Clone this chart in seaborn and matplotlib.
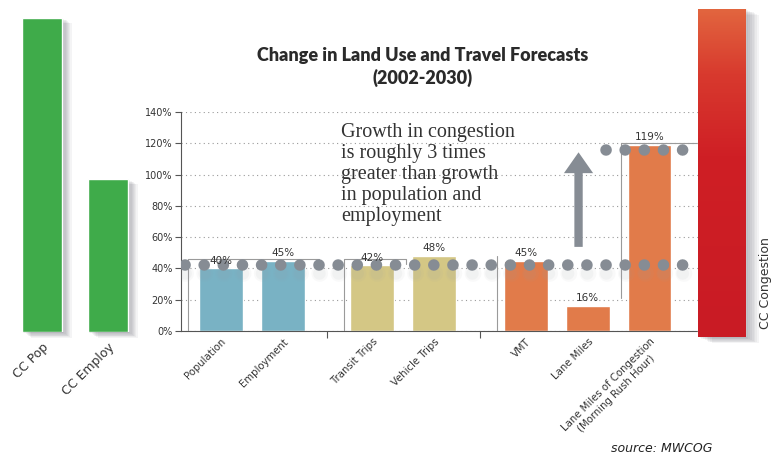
import numpy as np
import pandas as pd
import matplotlib
matplotlib.use("Agg")
import matplotlib.pyplot as plt
import seaborn as sns
from matplotlib.patches import FancyArrowPatch
from matplotlib.colors import LinearSegmentedColormap

# ---------------- data ----------------
categories = ["Population", "Employment", "Transit Trips", "Vehicle Trips",
              "VMT", "Lane Miles", "Lane Miles of Congestion\n(Morning Rush Hour)"]
values = [40, 45, 42, 48, 45, 16, 119]
groups = ["Land Use", "Land Use", "Trips", "Trips", "Roads", "Roads", "Roads"]
ytick_values = [0, 20, 40, 60, 80, 100, 120, 140]
cc_labels = ["CC Pop", "CC Employ"]
cc_values = [201, 98]
cong_labels = ["CC Congestion"]
cong_values = [210]
baseline_growth = 42
congestion_growth = 116
annotation = ("Growth in congestion\nis roughly 3 times\ngreater than growth\n"
              "in population and\nemployment")
title_lines = ["Change in Land Use and Travel Forecasts", "(2002-2030)"]
source = "source: MWCOG"

# ---------------- layout / style ----------------
W, H = 773, 457
def box(l, t, r, b):
    return [l / W, 1 - b / H, (r - l) / W, (b - t) / H]

positions = [0, 1, 2.44, 3.44, 4.92, 5.92, 6.92]
PX_PER_PCT = 219 / 140.0
palette = {"Land Use": "#79b2c4", "Trips": "#d4c785", "Roads": "#e17b4a"}
GREEN = "#3fab4a"
DOT = "#868c94"
TXT = "#333333"

sns.set_theme(style="white")
plt.rcParams["font.family"] = ["DejaVu Sans"]

fig = plt.figure(figsize=(7.73, 4.57), dpi=100)
fig.patch.set_facecolor("white")

# ---------------- main chart ----------------
ax = fig.add_axes(box(181, 112, 700, 331))
df = pd.DataFrame({"x": positions, "value": values, "group": groups})
sns.barplot(data=df, x="x", y="value", hue="group", palette=palette,
            native_scale=True, width=0.7, dodge=False, legend=False,
            saturation=1, ax=ax, zorder=2)
ax.set_xlim(-0.645, 7.73)
ax.set_ylim(0, 140)
ax.set_xlabel("")
ax.set_ylabel("")
ax.set_yticks(ytick_values)
ax.set_yticklabels([f"{v}%" for v in ytick_values], fontsize=7, color=TXT)
ax.set_xticks(positions)
ax.set_xticklabels(categories, rotation=45, ha="right", rotation_mode="anchor",
                   fontsize=7.3, color=TXT, multialignment="center")
ax.set_xticks([1.71, 4.18], minor=True)
ax.tick_params(axis="x", which="major", length=0, pad=4)
ax.tick_params(axis="x", which="minor", length=5, width=0.8, color="#555555",
               direction="out", bottom=True)
ax.tick_params(axis="y", length=4, width=0.8, color="#555555", direction="out",
               left=True, pad=2)
for s in ["top", "right"]:
    ax.spines[s].set_visible(False)
for s in ["left", "bottom"]:
    ax.spines[s].set_color("#555555")
    ax.spines[s].set_linewidth(0.8)
ax.yaxis.grid(True, linestyle=(0, (1, 3)), color="#9a9a9a", linewidth=0.8)
ax.set_axisbelow(True)

# value labels
for x, v in zip(positions, values):
    ax.annotate(f"{v}%", (x, v), xytext=(0, 2), textcoords="offset points",
                ha="center", va="bottom", fontsize=7.5, color=TXT, zorder=6)

# bracket lines
lc = "#9a9a9a"
ax.plot([-0.53, -0.53, 1.58], [0, 46, 46], color=lc, lw=0.8, zorder=3)
ax.plot([1.98, 1.98, 2.98, 2.98], [0, 46, 46, 43], color=lc, lw=0.8, zorder=3)
ax.plot([4.45, 4.45], [0, 48], color=lc, lw=0.8, zorder=3)
ax.plot([6.45, 6.45, 7.73], [21, 120, 120], color=lc, lw=0.8, zorder=3)

# dotted reference levels (soft shadow + dots)
for lw_s, a_s in [(12, 0.06), (9, 0.08)]:
    ax.plot([-0.58, 7.73], [baseline_growth - 5, baseline_growth - 5], color="#9aa0a8",
            lw=lw_s, alpha=a_s, ls=(0, (0.01, 19 / (lw_s * 1.389))),
            dash_capstyle="round", zorder=3)
ax.plot([-0.58, 7.73], [baseline_growth, baseline_growth], color=DOT,
        lw=8.3, ls=(0, (0.01, 1.65)), dash_capstyle="round", zorder=5)
ax.plot([6.21, 7.73], [congestion_growth, congestion_growth], color=DOT,
        lw=8.3, ls=(0, (0.01, 1.65)), dash_capstyle="round", zorder=5)

# arrow
arrow = FancyArrowPatch((5.77, 52), (5.77, 116),
                        arrowstyle="simple,head_width=2.1,head_length=1.5,tail_width=0.6",
                        mutation_scale=10, color=DOT, zorder=5, lw=0)
ax.add_patch(arrow)

# annotation text
fig.text(341 / W, 1 - 123 / H, annotation, ha="left", va="top",
         fontsize=14.5, family="Liberation Serif", color=TXT, linespacing=1.14)

# ---------------- left CC bars ----------------
axl = fig.add_axes(box(0, 0, 150, 332))
axl.set_facecolor("none")
nl = len(cc_values)
for k in range(1, 9):
    axl.bar(np.arange(nl) + k * 0.018, cc_values, bottom=-k * 0.45, width=0.606,
            color="#4a4a5a", alpha=0.06, zorder=1, clip_on=False, lw=0)
sns.barplot(x=cc_labels, y=cc_values, color=GREEN, saturation=1, width=0.606,
            ax=axl, zorder=2)
axl.set_xlim(-0.636, 1.636)
axl.set_ylim(0, 332 / PX_PER_PCT)
axl.set_yticks([])
axl.set_xticks(range(nl))
axl.set_xticklabels(cc_labels, rotation=45, ha="right", rotation_mode="anchor",
                    fontsize=9, color=TXT)
axl.tick_params(axis="x", length=0, pad=6)
for s in axl.spines.values():
    s.set_visible(False)

# ---------------- right CC congestion bar ----------------
axr = fig.add_axes(box(690, 0, 773, 337))
axr.set_facecolor("none")
for k in range(1, 9):
    axr.bar([k * 0.022], cong_values, bottom=-k * 0.5, width=0.6,
            color="#4a4a5a", alpha=0.06, zorder=1, clip_on=False, lw=0)
sns.barplot(x=cong_labels, y=cong_values, color="#cc1d25", saturation=1,
            width=0.6, ax=axr, zorder=2)
p = [pt for pt in axr.patches if abs(pt.get_height() - cong_values[0]) < 1e-6][-1]
x0 = p.get_x()
x1 = x0 + p.get_width()
cmap = LinearSegmentedColormap.from_list(
    "cong", [(0, "#c91b24"), (0.55, "#cf1f25"), (0.8, "#d83a2e"), (1, "#e2663f")])
im = axr.imshow(np.linspace(0, 1, 256).reshape(-1, 1), extent=[x0, x1, 0, cong_values[0]],
                origin="lower", aspect="auto", cmap=cmap, zorder=3)
im.set_clip_path(p)
axr.set_xlim(-0.402, 0.657)
axr.set_ylim(0, 337 / PX_PER_PCT)
axr.set_xticks([])
axr.set_yticks([])
axr.set_xlabel("")
for s in axr.spines.values():
    s.set_visible(False)
fig.text(766 / W, 1 - 283 / H, cong_labels[0], rotation=90, ha="center",
         va="center", fontsize=9, color=TXT)

# ---------------- titles & source ----------------
fig.text(423 / W, 1 - 56 / H, title_lines[0], ha="center", va="center",
         fontsize=13, fontweight="heavy", family=["Lato", "DejaVu Sans"], color="#2a2a2a")
fig.text(423 / W, 1 - 78 / H, title_lines[1], ha="center", va="center",
         fontsize=13, fontweight="heavy", family=["Lato", "DejaVu Sans"], color="#2a2a2a")
fig.text(662 / W, 1 - 448 / H, source, ha="center", va="center",
         fontsize=9, style="italic", color="#222222")

fig.savefig("out.png", dpi=100, facecolor="white")
